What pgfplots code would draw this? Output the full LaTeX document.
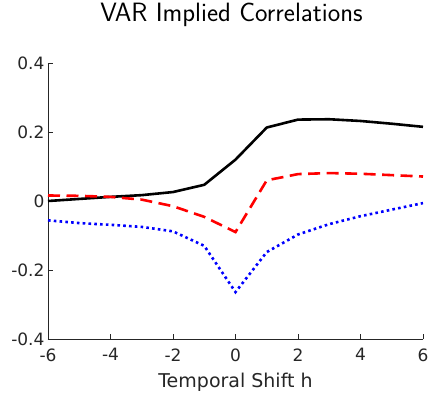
\documentclass[border=0pt]{standalone}
\usepackage{pgfplots}
\pgfplotsset{compat=1.18}
\usepackage{fontspec}
\newfontfamily\dejavu{DejaVu Sans}
\definecolor{axgray}{RGB}{38,38,38}
\begin{document}
\begin{tikzpicture}
\useasboundingbox (0,0) rectangle (430pt,392pt);
\begin{axis}[
  at={(48pt,53pt)}, anchor=south west,
  scale only axis, width=375pt, height=276pt,
  xmin=-6, xmax=6, ymin=-0.4, ymax=0.4,
  axis lines*=left,
  axis line style={axgray, line width=0.8pt},
  tick style={axgray, line width=0.6pt},
  tick align=inside, major tick length=5pt,
  xtick={-6,-4,-2,0,2,4,6},
  xticklabels={-6,-4,-2,0,2,4,6},
  ytick={-0.4,-0.2,0,0.2,0.4},
  yticklabels={-0.4,-0.2,0,0.2,0.4},
  ticklabel style={font=\dejavu\fontsize{17}{20}\selectfont, text=axgray},
  xticklabel style={yshift=-6pt},
  title={VAR Implied Correlations},
  title style={at={(axis description cs:0.5,1)}, anchor=base, yshift=36pt, xshift=-4pt,
    font=\sffamily\fontsize{26.5}{30}\selectfont, text=black},
  xlabel={Temporal Shift h},
  xlabel style={at={(axis description cs:0.5,0)}, anchor=base, yshift=-48pt,
    font=\dejavu\fontsize{19}{22}\selectfont, text=axgray},
]
\addplot[black, line width=2.6pt, line join=round] coordinates {
(-6,0.000) (-5,0.006) (-4,0.012) (-3,0.017) (-2,0.026) (-1,0.047) (0,0.120)
(1,0.213) (2,0.236) (3,0.237) (4,0.232) (5,0.224) (6,0.215)};
\addplot[red, line width=2.6pt, dash pattern=on 12pt off 6.5pt] coordinates {
(-6,0.016) (-5,0.015) (-4,0.012) (-3,0.004) (-2,-0.015) (-1,-0.046) (0,-0.090)
(1,0.060) (2,0.078) (3,0.081) (4,0.079) (5,0.075) (6,0.071)};
\addplot[blue, line width=2.6pt, dash pattern=on 2.6pt off 3.2pt] coordinates {
(-6,-0.056) (-5,-0.064) (-4,-0.069) (-3,-0.075) (-2,-0.088) (-1,-0.130) (0,-0.264)
(1,-0.148) (2,-0.097) (3,-0.067) (4,-0.044) (5,-0.025) (6,-0.006)};
\end{axis}
\end{tikzpicture}
\end{document}
